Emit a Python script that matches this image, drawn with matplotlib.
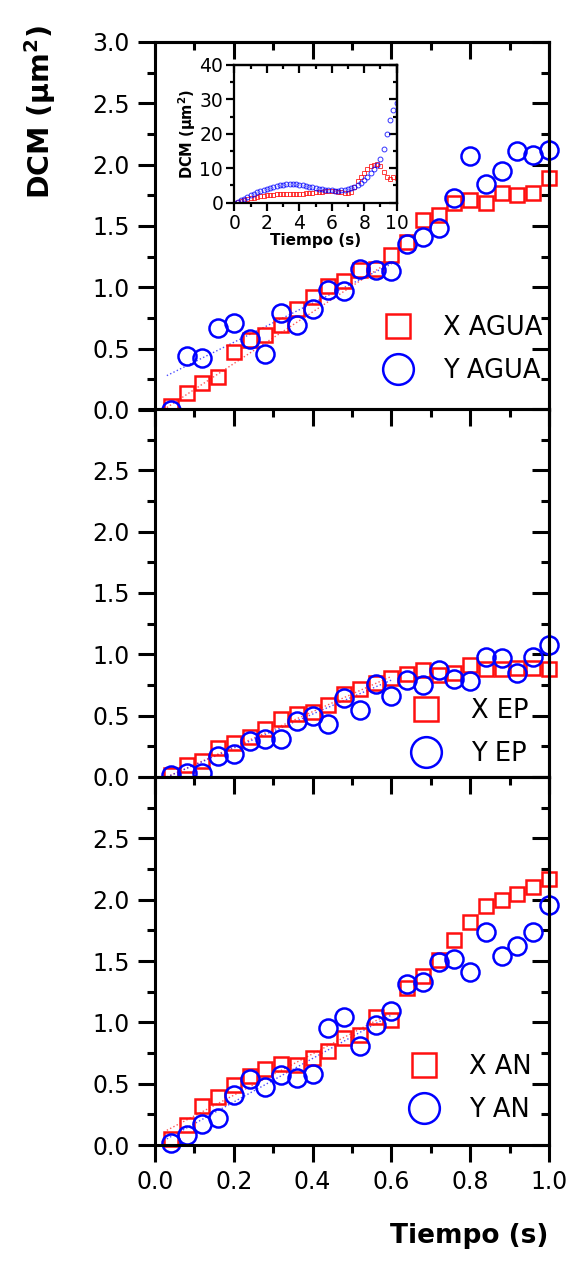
import numpy as np
import matplotlib
matplotlib.use('Agg')
import matplotlib.pyplot as plt
from matplotlib.ticker import MultipleLocator

plt.rcParams['font.family'] = 'DejaVu Sans'
plt.rcParams['mathtext.fontset'] = 'dejavusans'

# time axis for main panels (25 fps)
t = [0.04, 0.08, 0.12, 0.16, 0.20, 0.24, 0.28, 0.32, 0.36, 0.40, 0.44, 0.48, 0.52,
     0.56, 0.60, 0.64, 0.68, 0.72, 0.76, 0.80, 0.84, 0.88, 0.92, 0.96, 1.00]

# AGUA
x_agua = [0.03, 0.14, 0.22, 0.27, 0.47, 0.57, 0.61, 0.69, 0.82, 0.92, 1.01, 1.05, 1.14,
          1.15, 1.26, 1.37, 1.55, 1.59, 1.69, 1.71, 1.69, 1.77, 1.75, 1.77, 1.89]
y_agua = [0.00, 0.44, 0.42, 0.67, 0.71, 0.58, 0.46, 0.79, 0.69, 0.82, 0.98, 0.97, 1.15,
          1.14, 1.13, 1.35, 1.41, 1.48, 1.73, 2.07, 1.84, 1.95, 2.11, 2.08, 2.12]
# EP
x_ep = [0.02, 0.10, 0.13, 0.24, 0.28, 0.33, 0.39, 0.47, 0.51, 0.53, 0.59, 0.68, 0.72,
        0.77, 0.81, 0.84, 0.87, 0.83, 0.85, 0.91, 0.88, 0.88, 0.89, 0.89, 0.88]
y_ep = [0.02, 0.035, 0.03, 0.17, 0.19, 0.29, 0.31, 0.31, 0.46, 0.50, 0.43, 0.64, 0.55,
        0.76, 0.66, 0.79, 0.75, 0.87, 0.80, 0.78, 0.98, 0.97, 0.85, 0.98, 1.08]
# AN
x_an = [0.05, 0.16, 0.32, 0.39, 0.49, 0.56, 0.62, 0.66, 0.65, 0.71, 0.77, 0.87, 0.90,
        1.04, 1.02, 1.28, 1.38, 1.51, 1.67, 1.82, 1.95, 2.00, 2.05, 2.10, 2.17]
y_an = [0.02, 0.08, 0.17, 0.22, 0.41, 0.54, 0.47, 0.57, 0.55, 0.58, 0.95, 1.04, 0.81,
        0.98, 1.09, 1.31, 1.33, 1.49, 1.52, 1.41, 1.74, 1.54, 1.62, 1.74, 1.96]

# linear fits (endpoints) drawn as dotted lines
fit_t = [0.03, 0.60]
fit_x_agua = [0.02, 1.22]
fit_y_agua = [0.28, 1.19]
fit_x_ep = [0.00, 0.82]
fit_y_ep = [0.00, 0.79]
fit_x_an = [0.12, 1.08]
fit_y_an = [0.05, 1.06]

# inset (AGUA, 0-10 s)
t_in = [0.0, 0.2, 0.4, 0.6, 0.8, 1.0, 1.2, 1.4, 1.6, 1.8, 2.0, 2.2, 2.4, 2.6, 2.8, 3.0,
        3.2, 3.4, 3.6, 3.8, 4.0, 4.2, 4.4, 4.6, 4.8, 5.0, 5.2, 5.4, 5.6, 5.8, 6.0, 6.2,
        6.4, 6.6, 6.8, 7.0, 7.2, 7.4, 7.6, 7.8, 8.0, 8.2, 8.4, 8.6, 8.8, 9.0, 9.2, 9.4,
        9.6, 9.8, 10.0]
x_in = [0.0, 0.2, 0.5, 0.8, 1.0, 1.3, 1.5, 1.7, 1.9, 2.0, 2.1, 2.2, 2.3, 2.4, 2.4, 2.5,
        2.5, 2.5, 2.5, 2.6, 2.6, 2.6, 2.7, 2.8, 2.9, 3.0, 3.1, 3.2, 3.3, 3.4, 3.4, 3.3,
        3.2, 3.0, 2.8, 2.7, 3.2, 4.6, 6.2, 7.4, 8.6, 9.8, 10.6, 11.0, 11.2, 10.8, 8.8, 7.6,
        7.0, 7.5, 7.2]
y_in = [0.0, 0.3, 0.8, 1.2, 1.8, 2.2, 2.6, 3.0, 3.3, 3.7, 4.0, 4.3, 4.6, 4.8, 5.0, 5.2,
        5.3, 5.4, 5.4, 5.3, 5.2, 5.0, 4.9, 4.7, 4.5, 4.3, 4.1, 4.0, 3.8, 3.7, 3.6, 3.5,
        3.5, 3.6, 3.8, 4.0, 4.3, 4.7, 5.2, 5.8, 6.6, 7.6, 8.6, 9.8, 11.0, 12.6, 15.5, 20.0,
        24.0, 27.0, 29.0]

RED = '#ff1010'
BLUE = '#0000ff'


def style_ticks(ax, xmaj, xmin, ymaj, ymin, lw, lmaj, lmin, lsize, pad):
    for s in ax.spines.values():
        s.set_linewidth(lw)
    ax.xaxis.set_major_locator(MultipleLocator(xmaj))
    ax.xaxis.set_minor_locator(MultipleLocator(xmin))
    ax.yaxis.set_major_locator(MultipleLocator(ymaj))
    ax.yaxis.set_minor_locator(MultipleLocator(ymin))
    ax.tick_params(which='both', direction='out', width=lw, labelsize=lsize, pad=pad)
    ax.tick_params(which='major', length=lmaj)
    ax.tick_params(which='minor', length=lmin)
    # mirrored ticks pointing inward on top / right
    sx = ax.secondary_xaxis('top')
    sx.xaxis.set_major_locator(MultipleLocator(xmaj))
    sx.xaxis.set_minor_locator(MultipleLocator(xmin))
    sx.tick_params(which='both', direction='in', width=lw, labeltop=False)
    sx.tick_params(which='major', length=lmaj)
    sx.tick_params(which='minor', length=lmin)
    sy = ax.secondary_yaxis('right')
    sy.yaxis.set_major_locator(MultipleLocator(ymaj))
    sy.yaxis.set_minor_locator(MultipleLocator(ymin))
    sy.tick_params(which='both', direction='in', width=lw, labelright=False)
    sy.tick_params(which='major', length=lmaj)
    sy.tick_params(which='minor', length=lmin)
    for s in list(sx.spines.values()) + list(sy.spines.values()):
        s.set_linewidth(lw)


fig = plt.figure(figsize=(5.73, 12.63), dpi=100)

left, width, height = 0.2705, 0.6876, 0.2914
bottoms = [0.6754, 0.3848, 0.0934]
panels = [
    (x_agua, y_agua, fit_x_agua, fit_y_agua, 'X AGUA', 'Y AGUA', (0.551, 0.164)),
    (x_ep, y_ep, fit_x_ep, fit_y_ep, 'X EP', 'Y EP', (0.622, 0.121)),
    (x_an, y_an, fit_x_an, fit_y_an, 'X AN', 'Y AN', (0.617, 0.1535)),
]

for i, (xs, ys, fx, fy, lx, ly, legpos) in enumerate(panels):
    ax = fig.add_axes([left, bottoms[i], width, height])
    ax.plot(fit_t, fx, ':', color=RED, lw=1.0, alpha=0.7)
    ax.plot(fit_t, fy, ':', color=BLUE, lw=1.0, alpha=0.7)
    ax.plot(t, xs, 's', ms=10.5, mfc='none', mec=RED, mew=1.8, label=lx, clip_on=False)
    ax.plot(t, ys, 'o', ms=13, mfc='none', mec=BLUE, mew=1.8, label=ly, clip_on=False)
    ax.set_xlim(0, 1.0)
    ax.set_ylim(0, 3.0)
    style_ticks(ax, 0.2, 0.1, 0.5, 0.25, 2.2, 12, 6, 17, 6)
    ax.yaxis.set_major_formatter(plt.FuncFormatter(
        lambda v, p, i=i: '' if (i > 0 and v > 2.9) else f'{v:.1f}'))
    if i < 2:
        ax.tick_params(axis='x', labelbottom=False)
    else:
        ax.xaxis.set_major_formatter(plt.FuncFormatter(lambda v, p: f'{v:.1f}'))
    ax.legend(loc='center left', bbox_to_anchor=legpos, frameon=False,
              fontsize=18.5, markerscale=1.7, handletextpad=0.75, labelspacing=0.66,
              handlelength=2.0, borderaxespad=0, borderpad=0)

fig.text(40 / 573, 1 - 112 / 1263, 'DCM (μm$^\\mathbf{2}$)', rotation=90,
         fontsize=20.5, fontweight='bold', ha='center', va='center')
fig.text(548 / 573, 1 - 1236 / 1263, 'Tiempo (s)', fontsize=19,
         fontweight='bold', ha='right', va='center')

# inset
ins = fig.add_axes([234.3 / 573, 1 - 202.7 / 1263, 162.4 / 573, 137.7 / 1263])
ins.plot(t_in, x_in, 's', ms=3, mfc='none', mec=RED, mew=0.7, alpha=0.8)
ins.plot(t_in, y_in, 'o', ms=3.5, mfc='none', mec=BLUE, mew=0.7, alpha=0.8)
ins.set_xlim(0, 10)
ins.set_ylim(0, 40)
style_ticks(ins, 2, 1, 10, 5, 1.6, 6, 3, 13.5, 2)
ins.set_xlabel('Tiempo (s)', fontsize=11, fontweight='bold', labelpad=0)
ins.set_ylabel('DCM (μm$^\\mathbf{2}$)', fontsize=10.5, fontweight='bold', labelpad=1)

fig.savefig('out.png', dpi=100)
